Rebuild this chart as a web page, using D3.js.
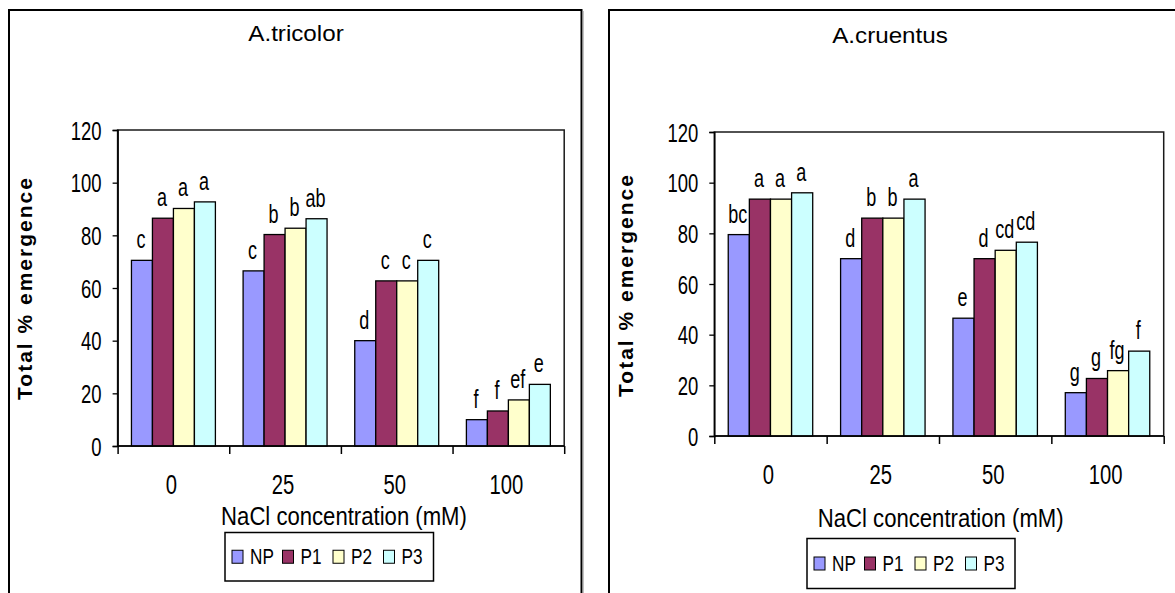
<!DOCTYPE html>
<html><head><meta charset="utf-8">
<script src="https://cdn.jsdelivr.net/npm/d3@7"></script>
<style>
html,body{margin:0;padding:0;background:#fff;}
svg{display:block;}
text{font-family:"Liberation Sans",Arial,sans-serif;fill:#000;}
</style></head>
<body>
<svg id="c" width="1175" height="593"></svg>
<script>
// ---- data ----
const categories = ["0", "25", "50", "100"];
const seriesNames = ["NP", "P1", "P2", "P3"];
const yTicks = [0, 20, 40, 60, 80, 100, 120];
const titles = ["A.tricolor", "A.cruentus"];
const xTitle = "NaCl concentration (mM)";
const yTitle = "Total % emergence";

const tricolorNP = [70.5, 66.5, 40, 10];
const tricolorP1 = [86.5, 80.3, 62.7, 13.3];
const tricolorP2 = [90.2, 82.7, 62.7, 17.5];
const tricolorP3 = [92.7, 86.3, 70.5, 23.4];
const tricolorLetters = [["c","c","d","f"],["a","b","c","f"],["a","b","c","ef"],["a","ab","c","e"]];

const cruentusNP = [79.5, 70, 46.5, 17.1];
const cruentusP1 = [93.5, 86, 70, 22.7];
const cruentusP2 = [93.5, 86, 73.3, 25.8];
const cruentusP3 = [96, 93.5, 76.5, 33.5];
const cruentusLetters = [["bc","d","e","g"],["a","b","d","g"],["a","b","cd","fg"],["a","a","cd","f"]];

const colors = ["#9999FF", "#993366", "#FFFFCC", "#CCFFFF"];

// ---- layout ----
const svg = d3.select("#c");
const charts = [
  {title: titles[0], values: [tricolorNP, tricolorP1, tricolorP2, tricolorP3], letters: tricolorLetters,
   panel: {x0: 9, x1: 581.5, y0: 10, right: true},
   px0: 117.6, px1: 564.2, py0: 446, py1: 130,
   titleX: 296, titleY: 41, xtX: 344, xtY: 525, ytX: 32, ytY: 288,
   leg: {x: 225, y: 532.5, w: 208.5, h: 48.5}},
  {title: titles[1], values: [cruentusNP, cruentusP1, cruentusP2, cruentusP3], letters: cruentusLetters,
   panel: {x0: 609, x1: 1180, y0: 10, right: false},
   px0: 714.3, px1: 1163.7, py0: 436, py1: 132,
   titleX: 890, titleY: 42.7, xtX: 940.7, xtY: 527, ytX: 633, ytY: 285,
   leg: {x: 807, y: 538.5, w: 208, h: 50}}
];

function txt(g, x, y, s, o) {
  const t = g.append("text")
    .attr("transform", `translate(${x},${y})${o.rot ? " rotate(" + o.rot + ")" : ""} scale(${o.sx || 1},1)`)
    .attr("text-anchor", o.anchor || "middle")
    .style("font-size", o.size + "px")
    .text(s);
  if (o.weight) t.style("font-weight", o.weight);
  if (o.ls) t.style("letter-spacing", o.ls + "px");
  return t;
}

charts.forEach(c => {
  const g = svg.append("g");
  // panel border
  const p = c.panel;
  const pathD = p.right ? `M${p.x0},600V${p.y0}H${p.x1}V600` : `M${p.x0},600V${p.y0}H${p.x1}`;
  g.append("path").attr("d", pathD).attr("fill", "none").attr("stroke", "#000").attr("stroke-width", 2);
  if (p.right) g.append("line").attr("x1", p.x1 + 1.6).attr("x2", p.x1 + 1.6).attr("y1", p.y0 + 1).attr("y2", 600)
      .attr("stroke", "#999").attr("stroke-width", 1);

  const x0 = d3.scaleBand().domain(categories).range([c.px0, c.px1]).paddingInner(0).paddingOuter(0);
  const x1 = d3.scaleBand().domain(seriesNames).range([0, x0.bandwidth()]).paddingInner(0).paddingOuter(0.66);
  const y = d3.scaleLinear().domain([0, 120]).range([c.py0, c.py1]);

  // plot area border
  g.append("rect").attr("x", c.px0).attr("y", c.py1).attr("width", c.px1 - c.px0).attr("height", c.py0 - c.py1)
    .attr("fill", "none").attr("stroke", "#1a1a1a").attr("stroke-width", 1.5);

  // bars
  seriesNames.forEach((s, si) => {
    g.selectAll(null).data(categories).enter().append("rect")
      .attr("x", (d) => x0(d) + x1(s))
      .attr("y", (d, i) => y(c.values[si][i]))
      .attr("width", x1.bandwidth())
      .attr("height", (d, i) => y(0) - y(c.values[si][i]))
      .attr("fill", colors[si]).attr("stroke", "#000").attr("stroke-width", 1.3);
    categories.forEach((d, i) => {
      txt(g, x0(d) + x1(s) + x1.bandwidth() / 2 - 1, y(c.values[si][i]) - 12, c.letters[si][i], {size: 25, sx: 0.72});
    });
  });

  // y axis
  const ya = d3.axisLeft(y).tickValues(yTicks).tickSize(5).tickFormat("");
  const yg = g.append("g").attr("transform", `translate(${c.px0},0)`).call(ya);
  yg.select(".domain").attr("stroke", "#000").attr("stroke-width", 1.5);
  yg.selectAll(".tick line").attr("stroke", "#000").attr("stroke-width", 1.3);
  yTicks.forEach(t => txt(g, c.px0 - 16, y(t) + 9.5, String(t), {size: 25, sx: 0.74, anchor: "end"}));

  // x axis: ticks at band boundaries
  const xa = d3.axisBottom(d3.scaleLinear().domain([0, 4]).range([c.px0, c.px1])).tickValues([0, 1, 2, 3, 4]).tickSize(8).tickFormat("");
  const xg = g.append("g").attr("transform", `translate(0,${c.py0})`).call(xa);
  xg.select(".domain").remove();
  xg.selectAll(".tick line").attr("stroke", "#000").attr("stroke-width", 1.5);
  g.append("line").attr("x1", c.px0).attr("x2", c.px1).attr("y1", c.py0).attr("y2", c.py0).attr("stroke", "#000").attr("stroke-width", 1.5);
  categories.forEach(cat => txt(g, x0(cat) + x0.bandwidth() / 2 - 2, c.py0 + 47.5, cat, {size: 27, sx: 0.75}));

  // titles
  txt(g, c.titleX, c.titleY, c.title, {size: 22, sx: 1.1});
  txt(g, c.xtX, c.xtY, xTitle, {size: 25, sx: 0.885});
  txt(g, c.ytX, c.ytY, yTitle, {size: 21, weight: "bold", rot: -90, ls: 2});

  // legend
  const L = c.leg;
  g.append("rect").attr("x", L.x).attr("y", L.y).attr("width", L.w).attr("height", L.h)
    .attr("fill", "#fff").attr("stroke", "#000").attr("stroke-width", 1.5);
  seriesNames.forEach((s, si) => {
    const sx = L.x + 7 + si * 50.5;
    const cy = L.y + L.h / 2;
    g.append("rect").attr("x", sx).attr("y", cy - 6.5).attr("width", 11).attr("height", 13)
      .attr("fill", colors[si]).attr("stroke", "#000").attr("stroke-width", 1);
    txt(g, sx + 18, cy + 7.5, s, {size: 22, sx: 0.78, anchor: "start"});
  });
});
</script>
</body></html>
